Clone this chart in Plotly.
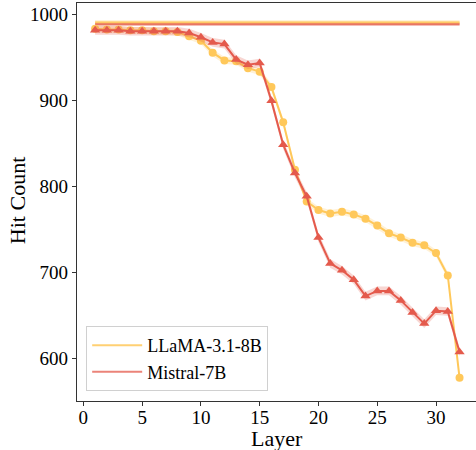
import plotly.graph_objects as go

layers = list(range(1, 33))

llama_hits = [983, 982, 982, 981, 981, 980, 980, 979, 974, 969, 955, 946, 945, 937, 933, 915,
              874, 819, 782, 772, 768, 770, 767, 762, 754, 745, 740, 734, 731, 722, 696, 577]
mistral_hits = [981, 981, 981, 980, 980, 980, 980, 980, 978, 973, 967, 965, 947, 941, 943, 899,
                848, 815, 788, 740, 710, 702, 691, 672, 678, 678, 667, 653, 640, 655, 654, 607]
llama_spread = [4] * 32
mistral_spread = [5] * 32

llama_total = 990
mistral_total = 988

ORANGE = "#FFC85A"
RED = "#E45A4C"
ORANGE_FILL = "rgba(255,200,90,0.25)"
RED_FILL = "rgba(228,90,76,0.25)"

fig = go.Figure()


def band(x, y, s, fill):
    upper = [v + d for v, d in zip(y, s)]
    lower = [v - d for v, d in zip(y, s)]
    fig.add_trace(go.Scatter(x=x + x[::-1], y=upper + lower[::-1], fill="toself",
                             fillcolor=fill, line=dict(width=0), mode="lines",
                             hoverinfo="skip", showlegend=False))


# total lines (with bands)
band([layers[0], layers[-1]], [llama_total] * 2, [2.5] * 2, "rgba(255,200,90,0.45)")
band([layers[0], layers[-1]], [mistral_total] * 2, [2] * 2, "rgba(228,90,76,0.25)")
fig.add_trace(go.Scatter(x=[layers[0], layers[-1]], y=[llama_total] * 2, mode="lines",
                         line=dict(color=ORANGE, width=2), opacity=0.85, name="LLaMA-3.1-8B"))
fig.add_trace(go.Scatter(x=[layers[0], layers[-1]], y=[mistral_total] * 2, mode="lines",
                         line=dict(color=RED, width=2), opacity=0.75, name="Mistral-7B"))

band(layers, llama_hits, llama_spread, ORANGE_FILL)
fig.add_trace(go.Scatter(x=layers, y=llama_hits, mode="lines+markers",
                         line=dict(color=ORANGE, width=2),
                         marker=dict(symbol="circle", size=8, color=ORANGE),
                         showlegend=False))
band(layers, mistral_hits, mistral_spread, RED_FILL)
fig.add_trace(go.Scatter(x=layers, y=mistral_hits, mode="lines+markers",
                         line=dict(color=RED, width=2),
                         marker=dict(symbol="triangle-up", size=9, color=RED),
                         showlegend=False))

axis_common = dict(showline=True, linecolor="#333333", linewidth=1.2, mirror=True,
                   ticks="outside", ticklen=4, tickcolor="#333333", showgrid=False,
                   zeroline=False, automargin=False,
                   tickfont=dict(family="Liberation Serif", size=19, color="black"))

fig.update_layout(
    width=476, height=450,
    margin=dict(l=77, r=0, t=3, b=49),
    plot_bgcolor="white", paper_bgcolor="white",
    font=dict(family="Liberation Serif", color="black"),
    xaxis=dict(range=[-0.54, 33.4], tickmode="array", tickvals=[0, 5, 10, 15, 20, 25, 30],
               ticklabelstandoff=-5, **axis_common),
    yaxis=dict(range=[550, 1012.8], tickmode="array", tickvals=[600, 700, 800, 900, 1000],
               **axis_common),
    legend=dict(x=0.023, y=0.025, xanchor="left", yanchor="bottom",
                bgcolor="rgba(255,255,255,0.8)", bordercolor="#d0d0d0", borderwidth=1,
                itemwidth=50,
                font=dict(family="Liberation Serif", size=18), tracegroupgap=0),
    annotations=[
        dict(text="Layer", xref="paper", yref="paper", x=0.5025, y=0, yshift=-37,
             xanchor="center", yanchor="middle", showarrow=False,
             font=dict(family="Liberation Serif", size=22, color="black")),
        dict(text="Hit Count", xref="paper", yref="paper", x=-0.150, y=0.5025,
             xanchor="center", yanchor="middle", textangle=-90, showarrow=False,
             font=dict(family="Liberation Serif", size=22, color="black")),
    ],
)

fig.write_html("out.html", config={"displayModeBar": False},
               post_script="document.body.style.margin='0';document.body.style.overflow='hidden';")
